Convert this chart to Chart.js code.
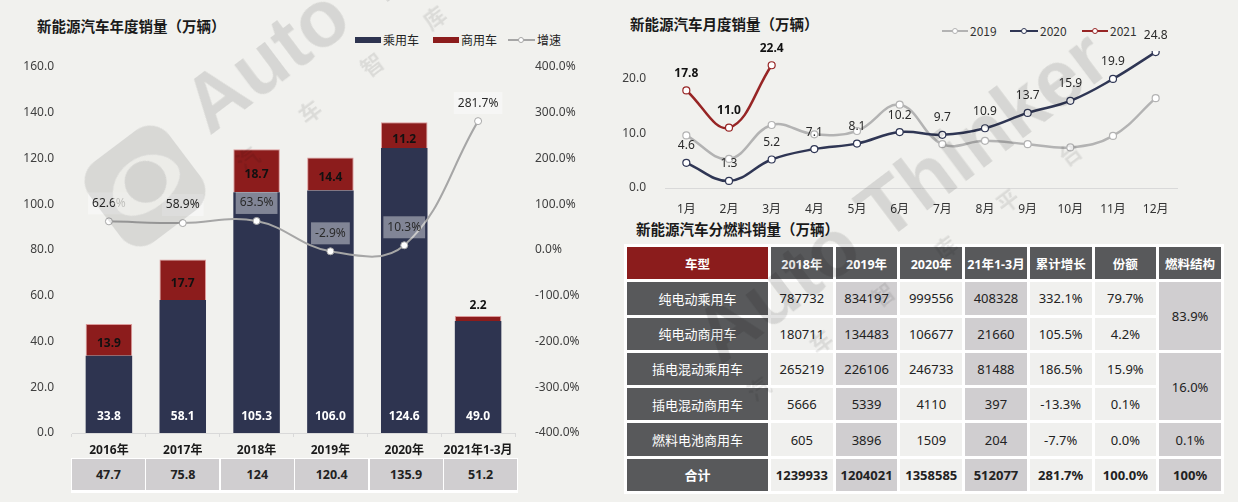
<!DOCTYPE html>
<html>
<head>
<meta charset="utf-8">
<script src="https://cdn.jsdelivr.net/npm/chart.js@4.4.1/dist/chart.umd.min.js"></script>
<style>
  html, body { margin: 0; padding: 0; }
  body {
    width: 1238px; height: 502px; background: #f1f1ee; position: relative; overflow: hidden;
    font-family: "Noto Sans", "Noto Sans CJK SC", sans-serif; color: #222;
  }
  canvas { position: absolute; }
  .title {
    position: absolute; font-family: "Noto Sans CJK SC", sans-serif; font-weight: bold;
    font-size: 14.5px; line-height: 18px; color: #1a1a1a; white-space: nowrap;
  }
  .lg { position: absolute; font-family: "Noto Sans CJK SC", sans-serif; font-size: 12px; line-height: 14px; color: #222; }
  .sw { position: absolute; }
  .dot { position: absolute; width: 4px; height: 4px; border-radius: 50%; background: #fff; border: 1px solid; }

  #totals {
    position: absolute; left: 71px; top: 458px; width: 447px; height: 35px;
    background: #fff; display: flex; gap: 1.5px; padding: 1px 1px 3px 1px; box-sizing: border-box;
  }
  #totals div {
    flex: 1; background: #d0ced0; display: flex; align-items: center; justify-content: center;
    font-weight: bold; font-size: 12.5px; color: #222;
  }

  #fuel {
    position: absolute; left: 624px; top: 244px; width: 600px; height: 250px;
    background: #fff; border-collapse: separate; border-spacing: 3px; table-layout: fixed;
  }
  #fuel th, #fuel td { padding: 0; text-align: center; font-size: 13px; white-space: nowrap; }
  #fuel th { background: #58595b; color: #fff; font-weight: bold; font-size: 12.5px; }
  #fuel th.red { background: #8b1c1c; }
  #fuel td.lab { background: #58595b; color: #fff; font-family: "Noto Sans CJK SC", sans-serif; }
  #fuel td.lt { background: #f0f0ee; color: #222; }
  #fuel td.dk { background: #d0ced0; color: #222; }
  #fuel tr.sum td { font-weight: bold; }

  .wm { position: absolute; width: 0; height: 0; transform-origin: 0 0; transform: rotate(-37deg); pointer-events: none; }
  .wm .en {
    position: absolute; left: 0; top: -68px; font-family: "Liberation Sans", sans-serif; font-weight: bold;
    font-size: 80px; line-height: 1; color: rgba(0,0,0,0.11); white-space: nowrap;
  }
  .wm .cn {
    position: absolute; left: 6px; top: 27px; font-family: "Noto Sans CJK SC", sans-serif; font-weight: bold;
    font-size: 22px; line-height: 1; letter-spacing: 56px; color: rgba(0,0,0,0.09); white-space: nowrap;
  }
  .logo { position: absolute; left: 95px; top: 136px; width: 100px; height: 100px; border-radius: 24px;
    background: rgba(0,0,0,0.1); transform: rotate(-37deg); pointer-events: none; }
  .logo .eye { position: absolute; left: 14px; top: 22px; width: 74px; height: 52px; border-radius: 50% 50% 50% 50% / 60% 60% 40% 40%;
    background: rgba(241,241,238,0.75); }
  .logo .iris { position: absolute; left: 32px; top: 26px; width: 42px; height: 42px; border-radius: 50%; background: rgba(0,0,0,0.1); }
</style>
</head>
<body>

<div class="title" style="left:37px; top:17px;">新能源汽车年度销量（万辆）</div>
<div class="title" style="left:630px; top:15px;">新能源汽车月度销量（万辆）</div>
<div class="title" style="left:636px; top:220px;">新能源汽车分燃料销量（万辆）</div>

<!-- legend, yearly chart -->
<div class="sw" style="left:355px; top:37px; width:26px; height:6px; background:#2e3450;"></div>
<div class="lg" style="left:383px; top:33px;">乘用车</div>
<div class="sw" style="left:433px; top:37px; width:26px; height:6px; background:#8c1c1c;"></div>
<div class="lg" style="left:461px; top:33px;">商用车</div>
<div class="sw" style="left:508px; top:39px; width:27px; height:2px; background:#a6a6a6;"></div>
<div class="dot" style="left:518px; top:37px; border-color:#a6a6a6;"></div>
<div class="lg" style="left:537px; top:33px;">增速</div>

<!-- legend, monthly chart -->
<div class="sw" style="left:942px; top:30px; width:26px; height:2px; background:#b3b3b3;"></div>
<div class="dot" style="left:952px; top:28px; border-color:#b3b3b3;"></div>
<div class="lg" style="left:970px; top:24px; color:#333;">2019</div>
<div class="sw" style="left:1010px; top:30px; width:28px; height:2px; background:#2f3654;"></div>
<div class="dot" style="left:1021px; top:28px; border-color:#2f3654;"></div>
<div class="lg" style="left:1040px; top:24px; color:#333;">2020</div>
<div class="sw" style="left:1082px; top:30px; width:26px; height:2px; background:#972525;"></div>
<div class="dot" style="left:1092px; top:28px; border-color:#972525;"></div>
<div class="lg" style="left:1110px; top:24px; color:#333;">2021</div>

<canvas id="yearChart" width="600" height="460" style="left:0; top:0;"></canvas>
<canvas id="monthChart" width="628" height="220" style="left:610px; top:0;"></canvas>

<div id="totals"></div>
<table id="fuel"></table>

<!-- watermark -->
<div class="logo"><div class="eye"></div><div class="iris"></div></div>
<div class="wm" style="left:210px; top:137px;"><span class="en">Auto Thinker</span><span class="cn">汽车智库平台</span></div>
<div class="wm" style="left:721px; top:367px;"><span class="en">Auto Thinker</span><span class="cn">汽车智库平台</span></div>

<script>
// yearly sales, 10k vehicles
const years = ["2016年", "2017年", "2018年", "2019年", "2020年", "2021年1-3月"];
const passenger = [33.8, 58.1, 105.3, 106.0, 124.6, 49.0];
const commercial = [13.9, 17.7, 18.7, 14.4, 11.2, 2.2];
const growth = [62.6, 58.9, 63.5, -2.9, 10.3, 281.7];
const totals = ["47.7", "75.8", "124", "120.4", "135.9", "51.2"];

// monthly sales, 10k vehicles
const months = ["1月", "2月", "3月", "4月", "5月", "6月", "7月", "8月", "9月", "10月", "11月", "12月"];
const sales2019 = [9.6, 5.3, 11.5, 9.8, 10.4, 15.2, 8.0, 8.6, 8.0, 7.4, 9.5, 16.4];
const sales2020 = [4.6, 1.3, 5.2, 7.1, 8.1, 10.2, 9.7, 10.9, 13.7, 15.9, 19.9, 24.8];
const sales2021 = [17.8, 11.0, 22.4];

// sales by fuel type
const fuelHeaders = ["车型", "2018年", "2019年", "2020年", "21年1-3月", "累计增长", "份额", "燃料结构"];
const fuelTypes = ["纯电动乘用车", "纯电动商用车", "插电混动乘用车", "插电混动商用车", "燃料电池商用车"];
const fuel2018 = [787732, 180711, 265219, 5666, 605];
const fuel2019 = [834197, 134483, 226106, 5339, 3896];
const fuel2020 = [999556, 106677, 246733, 4110, 1509];
const fuel2021q1 = [408328, 21660, 81488, 397, 204];
const fuelGrowth = ["332.1%", "105.5%", "186.5%", "-13.3%", "-7.7%"];
const fuelShare = ["79.7%", "4.2%", "15.9%", "0.1%", "0.0%"];
const fuelStruct = ["83.9%", "16.0%", "0.1%"];   // BEV, PHEV, FCV
const fuelTotal = ["1239933", "1204021", "1358585", "512077", "281.7%", "100.0%", "100%"];

Chart.defaults.font.family = '"Noto Sans", "Noto Sans CJK SC", sans-serif';
Chart.defaults.font.size = 12;
Chart.defaults.color = "#333";

const NAVY = "#2e3450", RED = "#8c1c1c", GREY = "#a6a6a6";

// value labels on the bars and growth line
const yearLabels = {
    id: "yearLabels",
    afterDatasetsDraw(chart) {
        const ctx = chart.ctx, area = chart.chartArea;
        ctx.save();
        ctx.textAlign = "center";
        ctx.textBaseline = "middle";
        ctx.font = 'bold 12px "Noto Sans"';
        chart.getDatasetMeta(0).data.forEach((bar, i) => {
            ctx.fillStyle = "#fff";
            ctx.fillText(passenger[i].toFixed(1), bar.x, area.bottom - 16);
        });
        chart.getDatasetMeta(1).data.forEach((bar, i) => {
            const h = bar.base - bar.y;
            const y = h > 18 ? (bar.y + bar.base) / 2 + 4 : bar.y - 10;
            ctx.fillStyle = "#111";
            ctx.fillText(commercial[i].toFixed(1), bar.x, y);
        });
        ctx.font = '12px "Noto Sans"';
        chart.getDatasetMeta(2).data.forEach((pt, i) => {
            const txt = growth[i].toFixed(1) + "%";
            const w = ctx.measureText(txt).width;
            const y = pt.y - 18;
            ctx.fillStyle = "rgba(255,255,255,0.4)";
            ctx.fillRect(pt.x - w / 2 - 4, y - 11, w + 8, 22);
            ctx.fillStyle = "#2a2a2a";
            ctx.fillText(txt, pt.x, y);
        });
        ctx.restore();
    }
};

new Chart(document.getElementById("yearChart"), {
    type: "bar",
    data: {
        labels: years,
        datasets: [
            { label: "乘用车", data: passenger, backgroundColor: NAVY, stack: "s", order: 1,
              categoryPercentage: 1, barPercentage: 0.63 },
            { label: "商用车", data: commercial, backgroundColor: RED, borderColor: "#dc9a9a", borderWidth: 1,
              stack: "s", order: 1, categoryPercentage: 1, barPercentage: 0.63 },
            { type: "line", label: "增速", data: growth, yAxisID: "y1", order: 0,
              borderColor: GREY, borderWidth: 2, tension: 0.4,
              pointRadius: 3.5, pointBackgroundColor: "#fff", pointBorderColor: GREY, pointBorderWidth: 1 }
        ]
    },
    options: {
        responsive: false,
        animation: false,
        layout: { padding: { top: 67, left: 0, right: 0, bottom: 0 } },
        plugins: { legend: { display: false }, tooltip: { enabled: false } },
        scales: {
            x: {
                stacked: true,
                grid: { display: true, drawOnChartArea: false, drawTicks: true, tickLength: 4, color: "#d9d9d9" },
                border: { display: true, color: "#d9d9d9" },
                ticks: { font: { weight: "bold", size: 12 }, color: "#1a1a1a", padding: 6,
                         maxRotation: 0, minRotation: 0, autoSkip: false },
                afterFit: s => { s.height = 27; }
            },
            y: {
                stacked: true, min: 0, max: 160,
                ticks: { stepSize: 20, padding: 10, color: "#404040", callback: v => v.toFixed(1) },
                grid: { display: false }, border: { display: false },
                afterFit: s => { s.width = 72; }
            },
            y1: {
                position: "right", min: -400, max: 400,
                ticks: { stepSize: 100, padding: 12, color: "#404040", callback: v => v.toFixed(1) + "%" },
                grid: { display: false }, border: { display: false },
                afterFit: s => { s.width = 85; }
            }
        }
    },
    plugins: [yearLabels]
});

// labels for the 2020 and 2021 lines
const monthLabels = {
    id: "monthLabels",
    afterDatasetsDraw(chart) {
        const ctx = chart.ctx;
        ctx.save();
        ctx.textAlign = "center";
        ctx.textBaseline = "middle";
        ctx.font = '12px "Noto Sans"';
        ctx.fillStyle = "#2a2a2a";
        chart.getDatasetMeta(1).data.forEach((pt, i) => {
            ctx.fillText(sales2020[i].toFixed(1), pt.x, pt.y - 17);
        });
        ctx.font = 'bold 12px "Noto Sans"';
        ctx.fillStyle = "#111";
        chart.getDatasetMeta(2).data.forEach((pt, i) => {
            ctx.fillText(sales2021[i].toFixed(1), pt.x, pt.y - 17);
        });
        ctx.restore();
    }
};

function lineSet(label, data, color, order) {
    return {
        label, data, order,
        borderColor: color, borderWidth: 2.5, tension: 0.4,
        pointRadius: 3.5, pointBackgroundColor: "#fff", pointBorderColor: color, pointBorderWidth: 1.2
    };
}

new Chart(document.getElementById("monthChart"), {
    type: "line",
    data: {
        labels: months,
        datasets: [
            lineSet("2019", sales2019, "#b3b3b3", 2),
            lineSet("2020", sales2020, "#2f3654", 1),
            lineSet("2021", sales2021, "#972525", 0)
        ]
    },
    options: {
        responsive: false,
        animation: false,
        layout: { padding: { top: 51, left: 0, right: 61, bottom: 0 } },
        plugins: { legend: { display: false }, tooltip: { enabled: false } },
        scales: {
            x: {
                offset: true,
                grid: { display: false },
                border: { display: true, color: "#d9d9d9" },
                ticks: { color: "#333", padding: 6, maxRotation: 0, autoSkip: false },
                afterFit: s => { s.height = 32; }
            },
            y: {
                min: 0, max: 25,
                ticks: { stepSize: 10, padding: 11, color: "#404040", callback: v => v.toFixed(1) },
                afterBuildTicks: s => { s.ticks = s.ticks.filter(t => t.value % 10 === 0); },
                grid: { display: false }, border: { display: false },
                afterFit: s => { s.width = 55; }
            }
        }
    },
    plugins: [monthLabels]
});

// totals row under the yearly chart
const totalsBox = document.getElementById("totals");
totals.forEach(t => {
    const d = document.createElement("div");
    d.textContent = t;
    totalsBox.appendChild(d);
});

// fuel type table
const table = document.getElementById("fuel");
let html = '<colgroup><col style="width:141px">' + '<col>'.repeat(7) + '</colgroup><tr>';
fuelHeaders.forEach((h, i) => { html += `<th class="${i === 0 ? "red" : ""}">${h}</th>`; });
html += "</tr>";
fuelTypes.forEach((name, i) => {
    html += `<tr><td class="lab">${name}</td>`
        + `<td class="lt">${fuel2018[i]}</td><td class="dk">${fuel2019[i]}</td>`
        + `<td class="lt">${fuel2020[i]}</td><td class="dk">${fuel2021q1[i]}</td>`
        + `<td class="lt">${fuelGrowth[i]}</td><td class="lt">${fuelShare[i]}</td>`;
    if (i === 0) html += `<td class="dk" rowspan="2">${fuelStruct[0]}</td>`;
    if (i === 2) html += `<td class="dk" rowspan="2">${fuelStruct[1]}</td>`;
    if (i === 4) html += `<td class="dk">${fuelStruct[2]}</td>`;
    html += "</tr>";
});
const sumCls = ["lt", "dk", "lt", "dk", "lt", "lt", "dk"];
html += '<tr class="sum"><td class="lab" style="font-weight:bold">合计</td>'
    + fuelTotal.map((v, i) => `<td class="${sumCls[i]}">${v}</td>`).join("") + "</tr>";
table.innerHTML = html;
</script>
</body>
</html>
